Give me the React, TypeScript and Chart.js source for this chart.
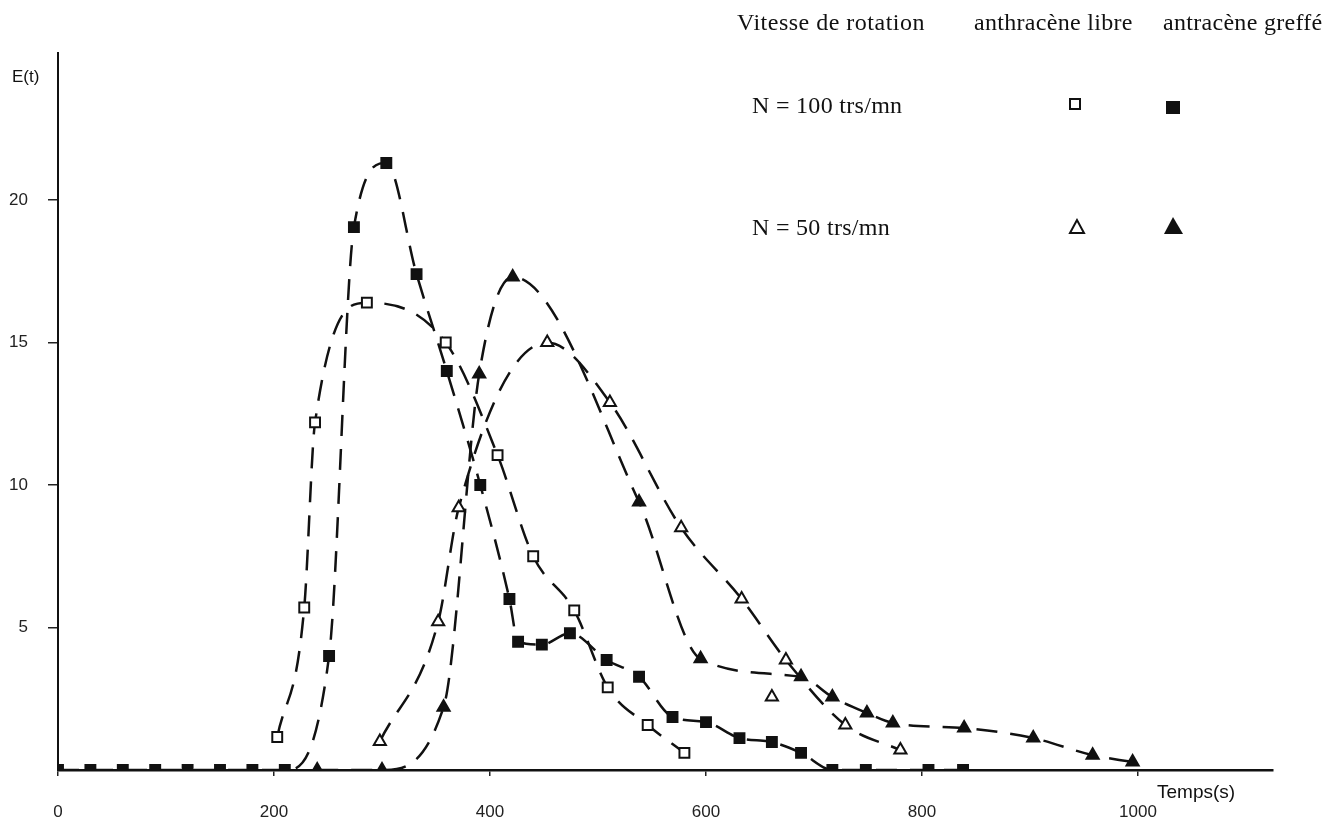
import React, { useEffect, useRef } from "react";
import { Chart, registerables } from "chart.js";

Chart.register(...registerables);

// ---- data (time in s, E(t)) ----
const libre100T = [203, 228, 238, 286, 359, 407, 440, 478, 509, 546, 580];
const libre100E = [1.16, 5.7, 12.2, 16.4, 15.0, 11.05, 7.5, 5.6, 2.9, 1.58, 0.6];

const greffe100T = [0, 30, 60, 90, 120, 150, 180, 210, 251, 274, 304, 332, 360, 391, 418, 426, 448, 474, 508, 538, 569, 600, 631, 661, 688, 717, 748, 806, 838];
const greffe100E = [0, 0, 0, 0, 0, 0, 0, 0, 4.0, 19.05, 21.3, 17.4, 14.0, 10.0, 6.0, 4.5, 4.4, 4.8, 3.86, 3.27, 1.86, 1.68, 1.12, 0.98, 0.6, 0, 0, 0, 0];

const libre50T = [298, 352, 371, 453, 511, 577, 633, 674, 729, 780];
const libre50E = [1.0, 5.2, 9.2, 15.0, 12.9, 8.5, 6.0, 3.86, 1.58, 0.7];

const greffe50T = [240, 300, 357, 390, 421, 538, 595, 688, 717, 749, 773, 839, 903, 958, 995];
const greffe50E = [0, 0, 2.2, 13.9, 17.3, 9.4, 3.9, 3.27, 2.56, 2.0, 1.65, 1.47, 1.12, 0.52, 0.28];

const strayT = [661];
const strayE = [2.56];

const xTickValues = [0, 200, 400, 600, 800, 1000];
const yTickValues = [5, 10, 15, 20];

const legendRows = ["N = 100 trs/mn", "N = 50 trs/mn"];
const legendHeaders = ["Vitesse de rotation", "anthracène libre", "antracène greffé"];

const pts = (t: number[], e: number[]) => t.map((x, i) => ({ x, y: e[i] }));

const DASH = [21, 13];

function lineSet(t: number[], e: number[], style: string, filled: boolean, showLine = true) {
  return {
    data: pts(t, e),
    showLine,
    borderColor: "#111",
    borderWidth: 2.5,
    borderDash: DASH,
    cubicInterpolationMode: "monotone" as const,
    pointStyle: style,
    pointRadius: 7,
    pointBorderWidth: 2,
    pointBorderColor: "#111",
    pointBackgroundColor: filled ? "#111" : "#fff",
  };
}

const textFont = "'Liberation Serif', 'Times New Roman', serif";
const sansFont = "'Liberation Sans', Arial, sans-serif";

export default function App() {
  const ref = useRef<HTMLCanvasElement | null>(null);

  useEffect(() => {
    document.body.style.margin = "0";
    const canvas = ref.current!;
    const chart = new Chart(canvas, {
      type: "scatter",
      data: {
        datasets: [
          lineSet(libre100T, libre100E, "rect", false),
          lineSet(greffe100T, greffe100E, "rect", true),
          lineSet(libre50T, libre50E, "triangle", false),
          lineSet(greffe50T, greffe50E, "triangle", true),
          lineSet(strayT, strayE, "triangle", false, false),
        ] as any,
      },
      options: {
        responsive: false,
        animation: false,
        layout: { padding: { top: 53, right: 63, left: 0, bottom: 0 } },
        plugins: { legend: { display: false }, tooltip: { enabled: false } },
        scales: {
          x: {
            type: "linear",
            min: 0,
            max: 1125,
            afterFit: (s: any) => {
              s.height = 55;
            },
            afterBuildTicks: (s: any) => {
              s.ticks = xTickValues.map((v) => ({ value: v }));
            },
            grid: { drawOnChartArea: false, drawTicks: true, tickLength: 6, color: "#222", lineWidth: 1.5 },
            border: { display: true, color: "#111", width: 2.5 },
            ticks: {
              padding: 26,
              color: "#222",
              font: { family: sansFont, size: 17 },
              autoSkip: false,
              maxRotation: 0,
              callback: (v: any) => String(v),
            },
          },
          y: {
            type: "linear",
            min: 0,
            max: 25.16,
            afterFit: (s: any) => {
              s.width = 58;
            },
            afterBuildTicks: (s: any) => {
              s.ticks = yTickValues.map((v) => ({ value: v }));
            },
            grid: { drawOnChartArea: false, drawTicks: true, tickLength: 10, color: "#222", lineWidth: 1.5 },
            border: { display: true, color: "#111", width: 2 },
            ticks: {
              padding: 20,
              color: "#222",
              font: { family: sansFont, size: 17 },
              callback: (v: any) => String(v),
            },
          },
        },
      },
    });
    return () => chart.destroy();
  }, []);

  const txt = (s: string, left: number, top: number, size: number, family: string, spacing = 0) => (
    <div
      style={{
        position: "absolute",
        left,
        top,
        fontFamily: family,
        fontSize: size,
        letterSpacing: spacing,
        lineHeight: 1,
        whiteSpace: "nowrap",
        color: "#111",
      }}
    >
      {s}
    </div>
  );

  return (
    <div style={{ position: "relative", width: 1336, height: 825, background: "#fff", overflow: "hidden" }}>
      <canvas ref={ref} width={1336} height={825} style={{ display: "block" }} />
      {txt("E(t)", 12, 68, 17, sansFont)}
      {txt("Temps(s)", 1157, 782, 19, sansFont)}
      {txt(legendHeaders[0], 737, 10, 24, textFont, 0.5)}
      {txt(legendHeaders[1], 974, 10, 24, textFont, 0.3)}
      {txt(legendHeaders[2], 1163, 10, 24, textFont, 0.3)}
      {txt(legendRows[0], 752, 93, 24, textFont, 0.3)}
      {txt(legendRows[1], 752, 215, 24, textFont, 0.3)}
      <svg style={{ position: "absolute", left: 0, top: 0 }} width={1336} height={825}>
        <rect x={1070} y={99} width={10} height={10} fill="#fff" stroke="#111" strokeWidth={2} />
        <rect x={1166} y={101} width={14} height={13} fill="#111" />
        <polygon points="1077,220 1070,233 1084,233" fill="#fff" stroke="#111" strokeWidth={2} />
        <polygon points="1173,217 1164,234 1183,234" fill="#111" />
      </svg>
    </div>
  );
}
